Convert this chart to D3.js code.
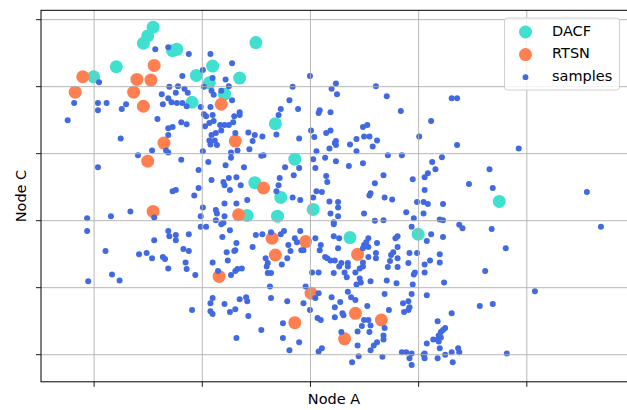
<!DOCTYPE html>
<html>
<head>
<meta charset="utf-8">
<script src="https://cdn.jsdelivr.net/npm/d3@7"></script>
<style>
  body { margin: 0; background: #fff; }
  svg { display: block; }
  text { font-family: "DejaVu Sans", sans-serif; }
</style>
</head>
<body>
<svg id="chart" width="627" height="410"></svg>
<script>
// highlighted nodes, [Node A, Node C]
const dacf = [
  [0.55,4.88],[0.50,4.75],[0.46,4.64],[0.73,4.53],[0.77,4.55],[0.21,4.29],[0.00,4.14],
  [1.50,4.65],[1.10,4.30],[0.95,4.16],[1.07,4.05],[1.35,4.12],[1.21,3.88],[0.91,3.76],
  [1.68,3.44],[1.86,2.91],[1.49,2.56],[1.73,2.34],[1.42,2.07],[1.70,2.06],[2.03,2.16],
  [2.37,1.74],[3.00,1.79],[3.75,2.28]
];
const rtsn = [
  [-0.10,4.14],[-0.17,3.91],[0.56,4.31],[0.40,4.10],[0.53,4.09],[0.37,3.91],[0.46,3.70],
  [1.18,3.73],[0.65,3.15],[1.31,3.18],[0.50,2.88],[1.57,2.48],[0.55,2.13],[1.34,2.08],
  [1.65,1.73],[1.96,1.68],[1.68,1.48],[1.16,1.16],[2.01,0.91],[1.86,0.47],[2.44,1.49],
  [2.42,0.61],[2.66,0.51],[2.32,0.23]
];
const samples = [
  [0.57,4.55],[0.69,4.58],[0.88,4.48],[0.82,4.15],[0.05,4.06],[0.70,3.99],[0.78,4.00],
  [0.84,3.96],[0.87,3.90],[0.76,3.90],[0.63,3.88],[0.69,3.82],[0.72,3.76],[0.64,3.73],
  [0.77,3.75],[0.82,3.75],[0.86,3.70],[-0.18,3.75],[0.04,3.75],[0.12,3.75],[0.04,3.64],
  [0.30,3.73],[0.26,3.66],[-0.24,3.49],[0.59,3.51],[0.25,3.22],[0.81,3.46],[0.86,3.43],
  [0.73,3.39],[0.69,3.37],[0.69,3.27],[0.54,3.04],[0.67,3.04],[0.69,3.01],[0.41,2.97],
  [0.81,2.90],[0.04,2.79],[0.73,2.43],[0.76,2.45],
  [1.08,4.48],[1.28,4.34],[1.01,4.24],[1.10,4.12],[1.22,4.10],[1.25,4.00],[1.02,3.99],
  [1.09,3.93],[1.11,3.87],[1.18,3.93],[1.28,3.79],[0.99,3.69],[1.08,3.69],[1.02,3.58],
  [1.04,3.55],[1.10,3.57],[1.03,3.40],[1.07,3.45],[1.11,3.48],[1.17,3.42],[1.21,3.42],
  [1.25,3.42],[1.29,3.46],[1.35,3.61],[1.35,3.57],[1.30,3.55],[1.18,3.34],[1.13,3.30],
  [1.09,3.27],[1.12,3.19],[1.07,3.19],[1.14,3.12],[1.08,3.13],[1.31,3.30],[1.43,3.31],
  [1.49,3.27],[1.56,3.25],[1.47,3.18],[1.44,3.06],[1.33,3.04],[1.27,3.01],[1.01,3.03],
  [1.27,2.93],[1.55,2.96],[1.57,2.97],[1.06,2.87],[1.22,2.82],[1.39,2.79],[0.97,2.75],
  [1.09,2.60],[1.20,2.57],[1.21,2.52],[1.25,2.63],[1.32,2.64],[1.36,2.52],[1.26,2.45],
  [0.93,2.37],[0.97,2.48],[1.42,2.30],[1.32,2.25],[1.21,2.25],[1.69,3.28],[1.71,3.57],
  [1.73,3.66],[1.81,3.79],[1.84,3.99],[1.89,3.66],[1.90,3.22],[2.00,4.15],[2.01,3.34],
  [2.04,3.24],[2.06,3.03],[2.03,2.91],[2.05,2.78],[2.09,3.64],[2.08,3.60],[2.19,3.61],
  [2.20,3.96],[2.24,4.04],[2.25,3.88],[2.15,3.30],[2.19,3.34],[2.23,3.15],[2.18,3.07],
  [2.14,2.93],[1.77,2.79],[1.90,2.78],[1.85,2.67],[1.72,2.63],[1.71,2.52],[1.69,2.43],
  [2.06,2.43],[2.11,2.42],[2.15,2.66],[2.16,2.57],[1.84,2.34],[1.91,2.30],[2.03,2.34],
  [2.18,2.28],[2.26,2.27],
  [2.24,3.18],[2.24,3.12],[2.24,2.88],[2.37,3.13],[2.43,3.21],[2.43,3.03],[2.36,2.81],
  [2.49,2.85],[2.49,3.39],[2.53,3.42],[2.50,3.25],[2.55,3.25],[2.58,3.10],[2.62,3.19],
  [2.72,2.97],[2.85,2.97],[2.61,4.00],[2.71,3.85],[2.84,3.63],[2.68,2.67],[2.60,2.55],
  [2.56,2.40],[2.55,2.37],[2.69,2.34],[2.76,2.31],[3.01,3.25],[3.12,3.48],[3.31,3.82],
  [3.36,3.82],[3.36,3.12],[3.22,2.94],[3.13,2.87],[3.16,2.76],[3.09,2.70],[3.06,2.64],
  [2.95,2.61],[3.06,2.45],[2.99,2.27],[3.05,2.27],[3.09,2.24],[3.23,2.24],[3.47,2.54],
  [3.93,3.07],[3.66,2.76],[3.69,2.48],[4.56,2.42],
  [-0.06,2.03],[0.16,2.06],[0.34,2.13],[0.56,2.04],[-0.06,1.84],[0.11,1.54],[0.17,1.19],
  [0.24,1.10],[-0.05,1.09],[0.42,1.49],[0.49,1.51],[0.54,1.43],[0.64,1.45],[0.66,1.42],
  [0.69,1.84],[0.70,1.76],[0.76,1.78],[0.76,1.70],[0.88,1.79],[0.56,1.70],[0.83,1.57],
  [0.88,1.54],[0.85,1.37],[0.69,1.28],[0.86,1.27],[0.91,0.66],[0.94,1.18],
  [1.01,2.19],[0.99,2.06],[1.13,2.15],[1.14,2.10],[1.21,2.06],[1.13,2.00],[0.99,1.90],
  [1.04,1.90],[1.18,1.94],[1.20,1.96],[1.26,1.85],[1.19,1.75],[1.32,1.66],[1.31,1.55],
  [1.30,1.54],[1.23,1.52],[1.24,1.40],[1.10,1.37],[1.15,1.24],[1.27,1.18],[1.31,1.24],
  [1.33,1.27],[1.37,1.28],[1.50,1.78],[1.56,1.79],[1.47,1.60],[1.64,1.82],[1.73,1.79],
  [1.76,1.84],[1.91,1.84],[1.86,1.73],[1.88,1.67],[1.80,1.63],[1.82,1.54],[1.92,1.55],
  [1.94,1.55],[1.59,1.43],[1.61,1.36],[1.60,1.31],[1.79,1.43],[1.74,1.34],[1.61,1.21],
  [1.64,1.21],[1.63,1.01],[1.64,0.84],[1.79,0.79],[1.96,1.01],[1.94,0.76],[2.00,0.66],
  [2.02,1.22],[2.08,1.22],[2.10,1.63],[2.09,1.55],[2.05,1.73],[2.19,2.10],[2.22,1.97],
  [2.22,1.94],[2.22,1.76],[2.27,1.73],[2.14,1.45],[2.16,1.43],[2.19,1.40],[2.22,1.21],
  [2.08,0.91],[2.05,0.84],[2.20,0.85],[2.07,0.54],[2.10,0.51],[2.23,0.55],[2.11,0.09],
  [2.08,0.04],[1.90,0.18],[1.81,0.06],[1.75,0.24],[1.75,0.46],[1.55,0.36],[1.32,0.24],
  [1.43,0.57],[1.26,0.63],[1.31,0.67],[1.21,0.75],[1.10,0.84],[1.08,0.76],[1.08,0.64],
  [1.10,0.60],[1.35,0.82],[1.41,0.85],[1.42,0.79],
  [2.26,2.19],[2.50,2.10],[2.26,2.06],[2.60,1.99],[2.68,2.00],[2.89,2.12],[2.96,2.03],
  [3.05,2.10],[3.20,2.01],[3.23,2.00],[2.94,1.90],[3.12,1.79],[3.08,1.69],[3.23,1.75],
  [3.38,1.93],[3.41,1.88],[2.54,1.73],[2.52,1.67],[2.50,1.63],[2.54,1.60],[2.62,1.66],
  [2.26,1.58],[2.49,1.58],[2.54,1.45],[2.61,1.51],[2.61,1.43],[2.79,1.73],[2.81,1.76],
  [2.81,1.60],[2.77,1.52],[2.75,1.48],[2.81,1.43],[2.92,1.51],[2.99,1.51],[2.23,1.40],
  [2.29,1.36],[2.27,1.31],[2.35,1.36],[2.35,1.31],[2.49,1.37],[2.49,1.31],[2.46,1.28],
  [2.74,1.39],[2.72,1.30],[2.81,1.30],[2.91,1.36],[2.97,1.22],[2.96,1.19],[3.06,1.34],
  [3.11,1.40],[3.20,1.49],[3.20,1.37],[3.06,1.22],[2.32,1.22],[2.34,1.15],[2.42,1.22],
  [2.46,1.13],[2.47,1.07],[2.56,1.09],[2.43,1.04],[2.71,1.10],[2.80,1.06],[2.95,1.04],
  [3.24,1.07],[3.62,1.24],[2.35,0.93],[2.38,0.85],[2.42,0.81],[2.28,0.78],[2.53,0.72],
  [2.69,0.90],[2.94,0.90],[2.91,0.79],[2.86,0.76],[2.92,0.70],[2.91,0.66],[2.87,0.63],
  [3.08,0.88],[2.73,0.66],[2.23,0.70],[2.30,0.61],[2.31,0.58],[2.50,0.51],[2.54,0.51],
  [2.48,0.42],[2.56,0.43],[2.44,0.34],[2.55,0.33],[2.29,0.33],[2.69,0.39],[2.68,0.28],
  [2.68,0.22],[2.62,0.18],[2.59,0.13],[2.56,0.06],[2.44,0.13],[2.45,-0.03],[2.39,-0.12],
  [2.67,-0.04],[2.85,0.03],[2.89,0.03],[2.94,0.01],[2.92,-0.06],[2.94,-0.16],[3.05,-0.01],
  [3.06,-0.06],[3.06,0.01],[3.08,0.16],[3.18,0.49],[3.31,0.61],[3.25,0.39],[3.23,0.36],
  [3.21,0.33],[3.19,0.28],[3.18,0.22],[3.14,0.22],[3.19,0.19],[3.21,0.25],[3.20,0.09],
  [3.31,0.03],[3.37,0.09],[3.38,0.03],[3.25,-0.01],[3.18,-0.06],[3.32,-0.12],[3.57,0.72],
  [3.68,1.87],[3.81,1.58],[4.69,1.90],[4.08,0.94],[3.69,0.75],[3.82,0.01]
];

const xTicks = [0, 1, 2, 3, 4];
const yTicks = [0, 1, 2, 3, 4, 5];
const legendLabels = ['DACF', 'RTSN', 'samples'];
const colors = { DACF: '#40e0d0', RTSN: '#ff7f50', samples: '#4169e1' };

const svg = d3.select('#chart');
// right spine falls just outside the picture
const box = { left: 41, top: 10.3, right: 627.6, bottom: 381.8 };

// matplotlib-style 5% margins around the data
const all = dacf.concat(rtsn, samples);
function padded(ext) {
    const p = (ext[1] - ext[0]) * 0.05;
    return [ext[0] - p, ext[1] + p];
}
const x = d3.scaleLinear()
    .domain(padded(d3.extent(all, d => d[0])))
    .range([box.left, box.right]);
const y = d3.scaleLinear()
    .domain(padded(d3.extent(all, d => d[1])))
    .range([box.bottom, box.top]);

const plotW = box.right - box.left;
const plotH = box.bottom - box.top;

// scatter layers, in the order they were plotted
function scatter(data, color, r) {
    svg.append('g')
        .selectAll('circle')
        .data(data)
        .enter().append('circle')
        .attr('cx', d => x(d[0]))
        .attr('cy', d => y(d[1]))
        .attr('r', r)
        .attr('fill', color);
}
scatter(dacf, colors.DACF, 6.5);
scatter(rtsn, colors.RTSN, 6.5);
scatter(samples, colors.samples, 3.0);

// grid (drawn over the points, like matplotlib's default zorder)
const gridX = svg.append('g')
    .attr('transform', `translate(0,${box.bottom})`)
    .call(d3.axisBottom(x).tickValues(xTicks).tickSize(-plotH).tickFormat(''));
const gridY = svg.append('g')
    .attr('transform', `translate(${box.left},0)`)
    .call(d3.axisLeft(y).tickValues(yTicks).tickSize(-plotW).tickFormat(''));
[gridX, gridY].forEach(g => {
    g.select('.domain').remove();
    g.selectAll('line').attr('stroke', '#b0b0b0').attr('stroke-width', 0.9);
});

// outward tick marks, no labels
const tickX = svg.append('g')
    .attr('transform', `translate(0,${box.bottom})`)
    .call(d3.axisBottom(x).tickValues(xTicks).tickSize(5).tickFormat(''));
const tickY = svg.append('g')
    .attr('transform', `translate(${box.left},0)`)
    .call(d3.axisLeft(y).tickValues(yTicks).tickSize(5).tickFormat(''));
[tickX, tickY].forEach(g => {
    g.select('.domain').remove();
    g.selectAll('line').attr('stroke', '#000').attr('stroke-width', 0.9);
});

// spines
svg.append('rect')
    .attr('x', box.left)
    .attr('y', box.top)
    .attr('width', plotW)
    .attr('height', plotH)
    .attr('fill', 'none')
    .attr('stroke', '#000')
    .attr('stroke-width', 1);

// axis labels
svg.append('text')
    .attr('x', 334)
    .attr('y', 404)
    .attr('text-anchor', 'middle')
    .attr('font-size', 14.5)
    .attr('fill', '#000')
    .text('Node A');

svg.append('text')
    .attr('transform', `translate(25.5,${(box.top + box.bottom) / 2}) rotate(-90)`)
    .attr('text-anchor', 'middle')
    .attr('font-size', 14.5)
    .attr('fill', '#000')
    .text('Node C');

// legend
const legend = svg.append('g').attr('transform', 'translate(504.5,18)');
legend.append('rect')
    .attr('width', 115)
    .attr('height', 72)
    .attr('rx', 3)
    .attr('fill', '#fff')
    .attr('fill-opacity', 0.8)
    .attr('stroke', '#d0d0d0')
    .attr('stroke-width', 1);

const rows = legend.selectAll('g.row')
    .data(legendLabels)
    .enter().append('g')
    .attr('class', 'row')
    .attr('transform', (d, i) => `translate(0,${i * 22.6})`);
rows.append('circle')
    .attr('cx', 21)
    .attr('cy', 14)
    .attr('r', d => d === 'samples' ? 2.9 : 6.5)
    .attr('fill', d => colors[d]);
rows.append('text')
    .attr('x', 47.5)
    .attr('y', 17.5)
    .attr('font-size', 14.5)
    .attr('fill', '#000')
    .text(d => d);
</script>
</body>
</html>
